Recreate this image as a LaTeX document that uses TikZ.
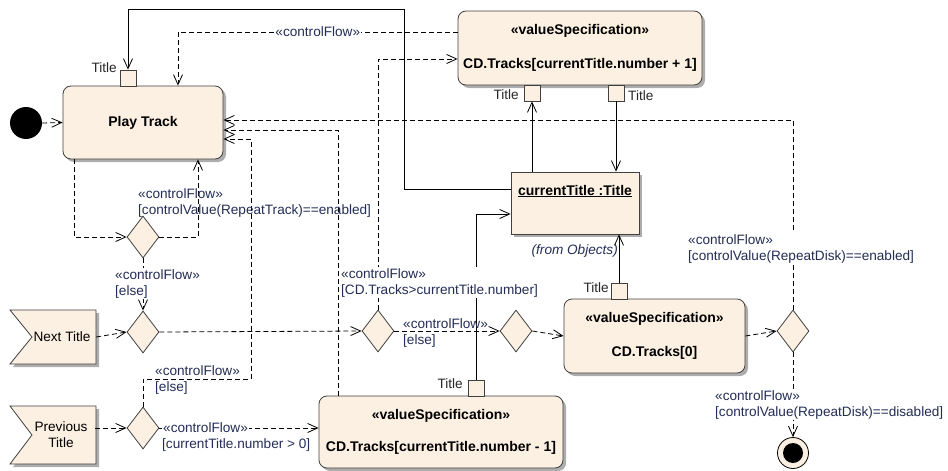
\documentclass[tikz,border=0pt]{standalone}
\usepackage{fontspec}
\setmainfont{Liberation Sans}
\RequirePackage{xcolor}
\definecolor{act-fill}{RGB}{251,240,225}
\definecolor{flow-text}{RGB}{35,45,85}
\definecolor{box-line}{gray}{0.25}
\definecolor{shade-gray}{gray}{0.68}
\usetikzlibrary{arrows.meta}
\usetikzlibrary{shapes.geometric, shadows}
\setlength{\fboxsep}{1pt}

\begin{document}
\begin{tikzpicture}[x=1pt,y=-1pt,
                    >={Straight Barb[length=10pt,width=9pt]},
                    font=\fontsize{13.6}{16}\selectfont]
  \tikzstyle{flow} = [->, line width=0.8pt, dash pattern=on 5pt off 3pt]
  \tikzstyle{objflow} = [->, line width=0.8pt]
  \tikzstyle{shade} = [drop shadow={shadow xshift=3pt, shadow yshift=-3pt, fill=shade-gray, opacity=1}]
  \tikzstyle{action} = [draw=box-line, fill=act-fill, line width=0.8pt, rounded corners=8pt,
                        align=center, font=\fontsize{14}{16}\selectfont\bfseries, shade]
  \tikzstyle{decision} = [diamond, draw=box-line, fill=act-fill, line width=0.8pt,
                          minimum width=32pt, minimum height=42pt, inner sep=0pt]
  \tikzstyle{pinbox} = [rectangle, draw=box-line, fill=act-fill, line width=0.8pt,
                        minimum size=16pt, inner sep=0pt]
  \tikzstyle{signal} = [draw=box-line, fill=act-fill, line width=0.8pt, shade]
  \tikzstyle{sigtext} = [minimum width=68pt, minimum height=56pt, inner sep=0pt, align=center]
  \tikzstyle{guard} = [anchor=north west, align=left, inner sep=0pt, text=flow-text]
  \tikzstyle{guardbg} = [guard, fill=white, inner sep=1pt]
  \tikzstyle{pinlabel} = [inner sep=0pt, text=black!85]
  \def\cflow{«controlFlow»}
  \useasboundingbox (0,0) rectangle (948,471);
% Start / end nodes
  \node[circle, fill=black, minimum size=32pt, inner sep=0pt] (init) at (26,123) {};
  \node[circle, draw=black, line width=0.8pt, fill=act-fill, minimum size=31pt, inner sep=0pt] (final) at (793,453) {};
  \fill[black] (final.center) circle[radius=10pt];
% Actions
  \node[action, minimum width=160pt, minimum height=73pt] (playtrack) at (143,122.5) {Play Track};
  \node[action, minimum width=244pt, minimum height=74pt] (specnext) at (580,48)
       {«valueSpecification»\\[18pt]CD.Tracks[currentTitle.number + 1]};
  \node[action, minimum width=181pt, minimum height=74pt] (specfirst) at (654.5,336)
       {«valueSpecification»\\[18pt]CD.Tracks[0]};
  \node[action, minimum width=244pt, minimum height=72pt] (specprev) at (441,432)
       {«valueSpecification»\\[16pt]CD.Tracks[currentTitle.number - 1]};
% Object node
  \node[draw=box-line, fill=act-fill, line width=0.8pt, shade, minimum width=128pt,
        text height=19pt, text depth=35pt, inner ysep=4pt,
        font=\fontsize{14}{16}\selectfont\bfseries] (curtitle) at (575,203) {\underline{currentTitle :Title}};
  \node[anchor=base east, inner sep=0pt, text=flow-text, font=\fontsize{13.6}{16}\selectfont\itshape] (fromobj)
       at (618,254) {(from Objects)};
% Pins
  \node[pinbox] (pinplay) at (128,78) {};
  \node[pinbox] (pinin) at (532,93) {};
  \node[pinbox] (pinout) at (616,93) {};
  \node[pinbox] (pinfirst) at (619,291) {};
  \node[pinbox] (pinprev) at (476,388) {};
  \node[pinlabel, anchor=base east] (tplay) at (117,72) {Title};
  \node[pinlabel, anchor=base east] (tin) at (519,99) {Title};
  \node[pinlabel, anchor=base west] (tout) at (628,100) {Title};
  \node[pinlabel, anchor=base east] (tfirst) at (609,292) {Title};
  \node[pinlabel, anchor=base east] (tprev) at (463,388) {Title};
% Accept events
  \filldraw[signal] (10,310) -- (96,310) -- (96,364) -- (10,364) -- (32,337) -- cycle;
  \node[sigtext, minimum height=54pt] (nexttitle) at (62,337) {Next Title};
  \filldraw[signal] (10,406) -- (96,406) -- (96,464) -- (10,464) -- (32,435) -- cycle;
  \node[sigtext, minimum height=58pt] (prevtitle) at (61,435) {Previous\\Title};
% Decisions
  \node[decision] (dtrack) at (143,237) {};
  \node[decision] (dnext) at (143,332) {};
  \node[decision] (dmore) at (378,331) {};
  \node[decision] (dwrap) at (516,331) {};
  \node[decision] (dprev) at (143,428) {};
  \node[decision] (ddisk) at (793,331) {};
  \coordinate (loopT) at (404,9);
  \coordinate (elseC) at (251,379);
% Object flows
  \draw[objflow] ([yshift=14pt]curtitle.west) -| (loopT) -| (pinplay.north);
  \draw[objflow] (pinin.south |- curtitle.north) -- (pinin.south);
  \draw[objflow] (pinout.south) -- (pinout.south |- curtitle.north);
  \draw[objflow] (pinfirst.north) -- (pinfirst.north |- curtitle.south);
  \draw[objflow] (pinprev.north) |- ([yshift=-11pt]curtitle.west);
% Control flows
  \draw[flow] (init.east) -- (playtrack.west);
  \draw[flow] ([yshift=16pt]specnext.west) -| node[pos=0.25, fill=white, inner sep=1pt, text=flow-text] (cftop) {\cflow}
       ([xshift=35pt]playtrack.north);
  \draw[flow] (dmore.north) |- ([yshift=-11pt]specnext.west);
  \draw[flow] (ddisk.north) |- ([yshift=2.5pt]playtrack.east);
  \draw[flow] ([xshift=-103pt]specprev.north) |- ([yshift=-7.5pt]playtrack.east);
  \draw[flow] (dprev.north) |- (elseC) |- ([yshift=-16.5pt]playtrack.east);
  \draw[flow] ([xshift=-69pt]playtrack.south) |- (dtrack.west);
  \draw[flow] (dtrack.east) -| ([xshift=55pt]playtrack.south);
  \draw[flow] (dtrack.south) -- (dnext.north);
  \draw[flow] (nexttitle.east) -- (dnext.west);
  \draw[flow] (dnext.east) -- (dmore.west);
  \draw[flow] (dmore.east) -- (dwrap.west);
  \draw[flow] (dwrap.east) -- (specfirst.west);
  \draw[flow] (specfirst.east) -- (ddisk.west);
  \draw[flow] (ddisk.south) -- (final.north);
  \draw[flow] ([yshift=7pt]prevtitle.east) -- (dprev.west);
  \draw[flow] (dprev.east) -- ([yshift=4pt]specprev.west);
% Guards
  \node[guard] (grepeat) at (138,188) {\cflow\\{}[controlValue(RepeatTrack)==enabled]};
  \node[guardbg] (gelsea) at (114,268) {\cflow\\{}[else]};
  \node[guardbg] (gmore) at (340,267) {\cflow\\{}[CD.Tracks>currentTitle.number]};
  \node[guard] (gelseb) at (403,318) {\cflow\\{}[else]};
  \node[guard] (gelsec) at (155,365) {\cflow\\{}[else]};
  \node[guard] (gpos) at (162,421) {\colorbox{white}{\cflow}\\{}[currentTitle.number > 0]};
  \node[guardbg] (genabled) at (687,233) {\cflow\\{}[controlValue(RepeatDisk)==enabled]};
  \node[guardbg] (gdisabled) at (714,389) {\cflow\\{}[controlValue(RepeatDisk)==disabled]};
\end{tikzpicture}
\end{document}
